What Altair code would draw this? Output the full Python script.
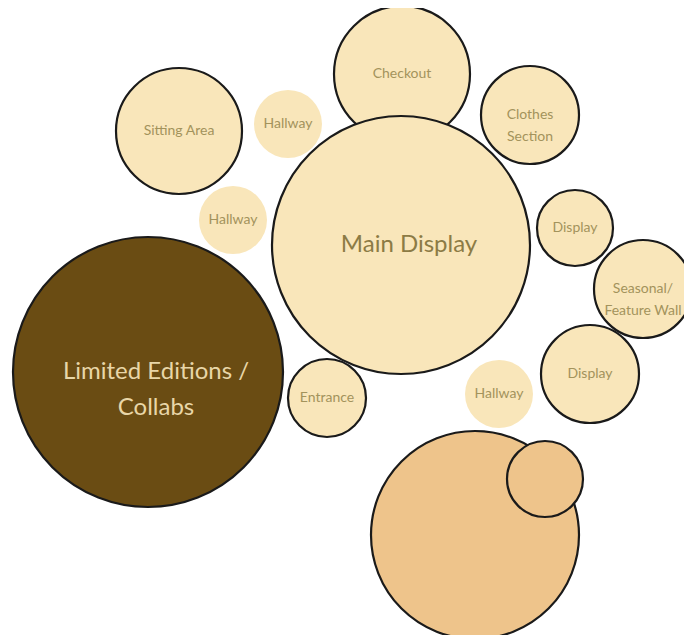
import altair as alt
import pandas as pd

# Bubble positions (image pixel coordinates) and radii
names = ["Checkout", "Main Display", "Sitting Area", "Hallway A", "Hallway B",
         "Clothes Section", "Display A", "Seasonal/Feature Wall", "Display B",
         "Hallway C", "Entrance", "Limited Editions / Collabs", "Outer", "Inner"]
labels = ["Checkout", "Main Display", "Sitting Area", "Hallway", "Hallway",
          "Clothes\nSection", "Display", "Seasonal/\nFeature Wall", "Display",
          "Hallway", "Entrance", "Limited Editions /\nCollabs", "", ""]
cx = [402, 401, 179, 288, 233, 530, 575, 643, 590, 499, 327, 148, 475, 545]
cy = [74, 245, 131, 124, 220, 115, 228, 289, 374, 394, 398, 372, 535, 479]
radius = [68, 129, 63, 34, 34, 49, 38, 49, 49, 34, 39, 135, 104, 38]
fills = ["#F9E6BA", "#F9E6BA", "#F9E6BA", "#F9E6BA", "#F9E6BA", "#F9E6BA",
         "#F9E6BA", "#F9E6BA", "#F9E6BA", "#F9E6BA", "#F9E6BA", "#6A4C13",
         "#EEC48B", "#EEC48B"]
outlined = [1, 1, 1, 0, 0, 1, 1, 1, 1, 0, 1, 1, 1, 1]
big_label = [0, 1, 0, 0, 0, 0, 0, 0, 0, 0, 0, 1, 0, 0]
text_colors = ["#A3935C", "#8C7B45", "#A3935C", "#A3935C", "#A3935C", "#A3935C",
               "#A3935C", "#A3935C", "#A3935C", "#A3935C", "#A3935C", "#E8D6A8",
               "#A3935C", "#A3935C"]

df = pd.DataFrame({
    "name": names, "label": labels, "cx": cx, "cy": cy, "r": radius,
    "fill": fills, "sw": [2.2 * o for o in outlined], "big": big_label,
    "tcolor": text_colors, "order": list(range(len(names))),
})

W, H = 676, 627
xs = alt.Scale(domain=[8, 8 + W], zero=False, nice=False)
ys = alt.Scale(domain=[8, 8 + H], zero=False, nice=False, reverse=True)

base = alt.Chart(df).encode(
    x=alt.X("cx:Q", scale=xs, axis=None),
    y=alt.Y("cy:Q", scale=ys, axis=None),
)

# Vega circle symbol: radius = sqrt(size) / 2
circles = base.transform_calculate(
    area="4 * datum.r * datum.r"
).mark_circle(opacity=1, fillOpacity=1, clip=False).encode(
    size=alt.Size("area:Q", scale=None, legend=None),
    fill=alt.Fill("fill:N", scale=None, legend=None),
    stroke=alt.value("#1A1A1A"),
    strokeWidth=alt.StrokeWidth("sw:Q", scale=None, legend=None),
    order=alt.Order("order:Q"),
)

small_text = base.transform_filter("datum.big == 0").mark_text(
    font="Lato", fontSize=14, lineBreak="\n", lineHeight=22,
    align="center", baseline="middle"
).encode(
    text="label:N",
    color=alt.Color("tcolor:N", scale=None, legend=None),
)

big_text = base.transform_filter("datum.big == 1").mark_text(
    font="Lato", fontSize=24, lineBreak="\n", lineHeight=36,
    align="center", baseline="middle", dx=8
).encode(
    text="label:N",
    color=alt.Color("tcolor:N", scale=None, legend=None),
)

chart = alt.layer(circles, small_text, big_text).properties(
    width=W, height=H, padding=0, autosize=alt.AutoSizeParams(type="none"),
    background="white",
).configure_view(stroke=None)

chart.save("out.html", embed_options={"renderer": "svg", "actions": False})
